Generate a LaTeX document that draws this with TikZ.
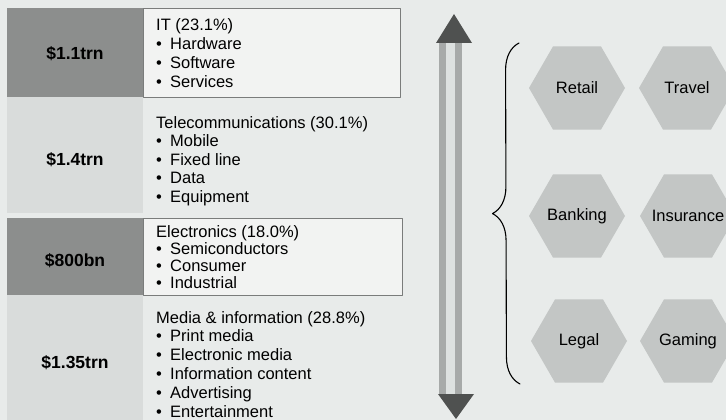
\documentclass[tikz,border=0pt]{standalone}
\usepackage{fontspec}
\setmainfont{Liberation Sans}
\usetikzlibrary{shapes.geometric}
\usetikzlibrary{decorations.pathreplacing}
\definecolor{paper}{HTML}{E8EBEA}
\definecolor{darkcell}{HTML}{8C8E8D}
\definecolor{lightcell}{HTML}{D9DCDB}
\definecolor{boxfill}{HTML}{F2F3F2}
\definecolor{boxline}{HTML}{7A7C7B}
\definecolor{hexgrey}{HTML}{C3C6C5}
\definecolor{stripe}{HTML}{A7AAA9}
\definecolor{shaftmid}{HTML}{DDE1E0}
\definecolor{headgrey}{HTML}{4F5150}
\newcommand{\blt}{\makebox[14pt][l]{\textbullet}}

\begin{document}
\begin{tikzpicture}[line cap=round,line join=round,x=1pt,y=-1pt,
  value/.style={font=\fontsize{17.5}{20}\selectfont\bfseries},
  block/.style={anchor=north west,align=left,inner sep=0pt,font=\fontsize{16.5}{18.8}\selectfont},
  hex/.style={regular polygon,regular polygon sides=6,minimum size=96pt,inner sep=0pt,
    fill=hexgrey,label={[font=\fontsize{16.5}{18}\selectfont]center:#1}}]
\clip (0,0) rectangle (726,420);
\fill[paper] (0,0) rectangle (726,420);

% market sizes down the left
\fill[darkcell] (7,8) rectangle (143,97);
\fill[lightcell] (7,97) rectangle (143,213);
\fill[darkcell] (7,218) rectangle (143,295);
\fill[lightcell] (7,295) rectangle (143,420);
\filldraw[fill=boxfill,draw=boxline,line width=0.6pt] (143,8) rectangle (400,97);
\filldraw[fill=boxfill,draw=boxline,line width=0.6pt] (143,218) rectangle (402,295);

\node[value] (it) at (75,54) {\$1.1trn};
\node[value] (tel) at (75,160) {\$1.4trn};
\node[value] (elec) at (75,261) {\$800bn};
\node[value] (media) at (75,363) {\$1.35trn};

% first baseline sits about 12.5pt under the top of each block
\node[block] (itlist) at (156,18.5) {IT (23.1\%)\\ \blt Hardware\\ \blt Software\\ \blt Services};
\node[block,font=\fontsize{16.5}{18.5}\selectfont] (tellist) at (156,116)
  {Telecommunications (30.1\%)\\ \blt Mobile\\ \blt Fixed line\\ \blt Data\\ \blt Equipment};
\node[block,font=\fontsize{16.5}{17}\selectfont] (eleclist) at (156,225)
  {Electronics (18.0\%)\\ \blt Semiconductors\\ \blt Consumer\\ \blt Industrial};
\node[block] (medialist) at (156,311)
  {Media \& information (28.8\%)\\ \blt Print media\\ \blt Electronic media\\ \blt Information content\\ \blt Advertising\\ \blt Entertainment};

% two-way arrow
\fill[stripe] (439,43) rectangle (462,394);
\fill[shaftmid] (446,43) rectangle (455,394);
\fill[headgrey] (454,14) -- (472,43) -- (436,43) -- cycle;
\fill[headgrey] (456,419) -- (474,394) -- (438,394) -- cycle;

% brace
\draw[decorate,decoration={brace,amplitude=27pt},line width=1.1pt] (520,384) -- (519,43);

% sectors
\node[hex=Retail] (retail) at (577,88) {};
\node[hex=Travel] (travel) at (687,88) {};
\node[hex=Banking] (banking) at (577,216) {};
\node[hex=Insurance] (insurance) at (688,216) {};
\node[hex=Legal] (legal) at (579,341) {};
\node[hex=Gaming] (gaming) at (688,341) {};
\end{tikzpicture}
\end{document}
